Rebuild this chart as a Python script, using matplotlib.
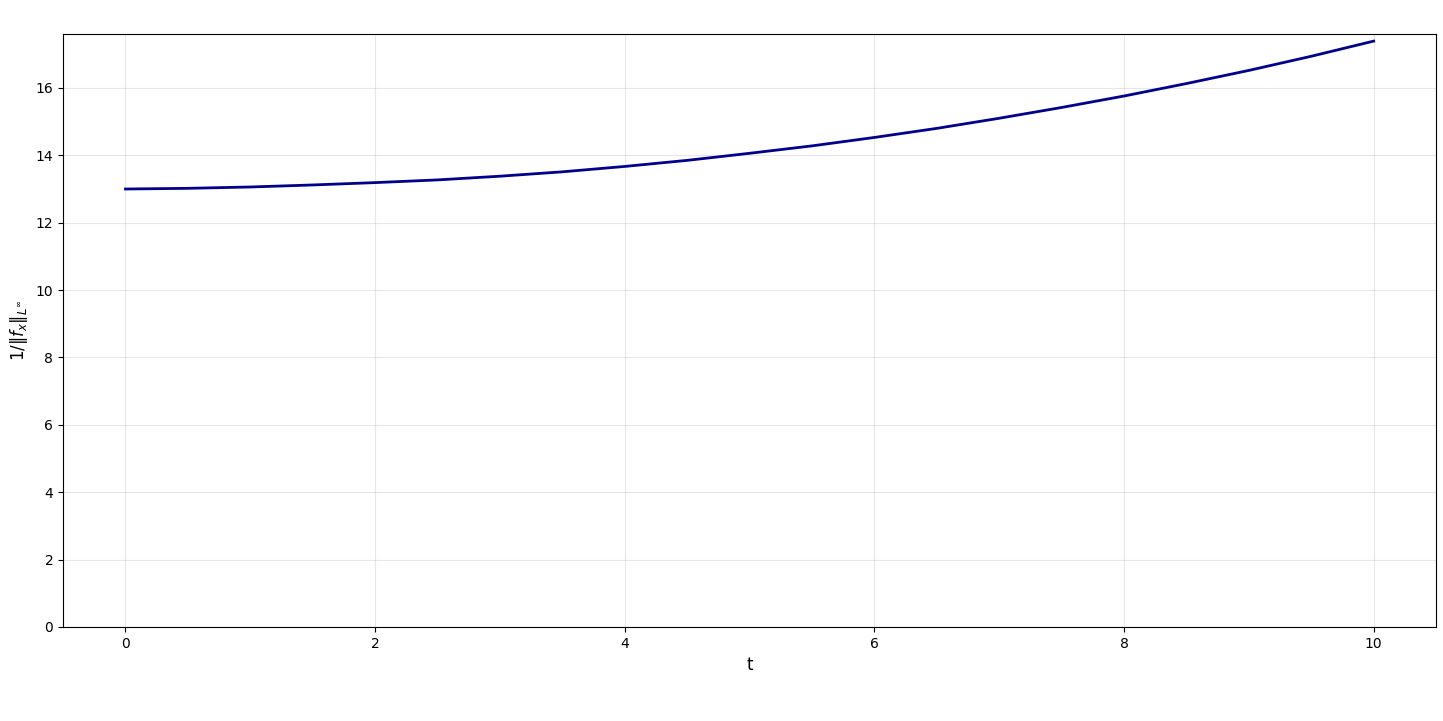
import numpy as np
import matplotlib
matplotlib.use("Agg")
import matplotlib.pyplot as plt

# values
t = [0.0, 0.5, 1.0, 1.5, 2.0, 2.5, 3.0, 3.5, 4.0, 4.5, 5.0,
     5.5, 6.0, 6.5, 7.0, 7.5, 8.0, 8.5, 9.0, 9.5, 10.0]
inv_fx = [13.00, 13.02, 13.06, 13.12, 13.19, 13.27, 13.38, 13.51, 13.67, 13.85, 14.06,
          14.28, 14.53, 14.80, 15.10, 15.42, 15.76, 16.13, 16.52, 16.94, 17.39]

fig, ax = plt.subplots(figsize=(14.43, 7.21), dpi=100)
ax.plot(t, inv_fx, color="darkblue", lw=2)
ax.set_xlim(-0.5, 10.5)
ax.set_ylim(0, 17.6)
ax.set_xlabel("t", fontsize=12)
ax.set_ylabel(r"$1/\|f_x\|_{L^\infty}$", fontsize=12)
ax.grid(True, alpha=0.3)
fig.subplots_adjust(left=0.0437, right=0.9952, top=0.9528, bottom=0.1304)
fig.savefig("out.png", dpi=100)
